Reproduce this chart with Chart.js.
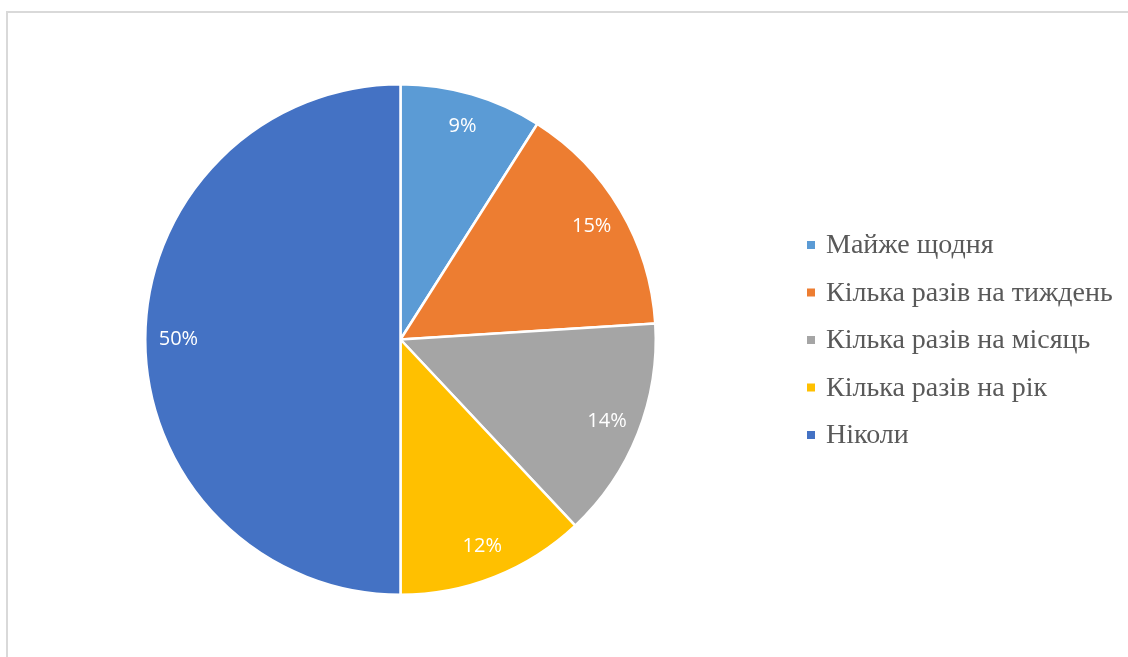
<!DOCTYPE html>
<html>
<head>
<meta charset="utf-8">
<script src="https://cdn.jsdelivr.net/npm/chart.js@4/dist/chart.umd.min.js"></script>
<style>
  html, body { margin: 0; padding: 0; background: #fff; }
  #wrap { position: relative; width: 1128px; height: 657px; overflow: hidden; }
  #frame { position: absolute; left: 6px; top: 11px; width: 1140px; height: 660px; border: 2px solid #d9d9d9; box-sizing: border-box; }
  canvas { position: absolute; left: 0; top: 0; }
</style>
</head>
<body>
<div id="wrap">
  <div id="frame"></div>
  <canvas id="c" width="1128" height="657"></canvas>
</div>
<script>
const categories = ["Майже щодня", "Кілька разів на тиждень", "Кілька разів на місяць", "Кілька разів на рік", "Ніколи"];
const values = [9, 15, 14, 12, 50];
const colors = ["#5B9BD5", "#ED7D31", "#A5A5A5", "#FFC000", "#4472C4"];

const labelPlugin = {
  id: 'sliceLabels',
  afterDatasetsDraw(chart) {
    const ctx = chart.ctx;
    const meta = chart.getDatasetMeta(0);
    const total = values.reduce((a, b) => a + b, 0);
    ctx.save();
    ctx.font = '20px "Open Sans", sans-serif';
    ctx.fillStyle = '#ffffff';
    ctx.textAlign = 'center';
    ctx.textBaseline = 'middle';
    meta.data.forEach((arc, i) => {
      const p = arc.getProps(['x', 'y', 'startAngle', 'endAngle', 'outerRadius'], true);
      const mid = (p.startAngle + p.endAngle) / 2;
      const r = p.outerRadius * 0.87;
      const x = p.x + Math.cos(mid) * r;
      const y = p.y + Math.sin(mid) * r;
      ctx.fillText(Math.round(values[i] / total * 100) + '%', x, y);
    });
    ctx.restore();
  }
};

const legendPlugin = {
  id: 'sideLegend',
  afterDraw(chart) {
    const ctx = chart.ctx;
    const x0 = 807, y0 = 245, step = 47.5, box = 8;
    ctx.save();
    ctx.font = '28px "Liberation Serif", "Times New Roman", serif';
    ctx.textBaseline = 'middle';
    ctx.textAlign = 'left';
    chart.data.labels.forEach((lab, i) => {
      const y = y0 + i * step;
      ctx.fillStyle = chart.data.datasets[0].backgroundColor[i];
      ctx.fillRect(x0, y - box / 2, box, box);
      ctx.fillStyle = '#595959';
      ctx.fillText(lab, 826, y + 1);
    });
    ctx.restore();
  }
};

new Chart(document.getElementById('c'), {
  type: 'pie',
  data: {
    labels: categories,
    datasets: [{
      data: values,
      backgroundColor: colors,
      borderColor: '#ffffff',
      borderWidth: 2.5
    }]
  },
  options: {
    responsive: false,
    animation: false,
    layout: { padding: { left: 144, right: 471, top: 83, bottom: 61 } },
    plugins: {
      legend: { display: false },
      tooltip: { enabled: false }
    }
  },
  plugins: [labelPlugin, legendPlugin]
});
</script>
</body>
</html>
